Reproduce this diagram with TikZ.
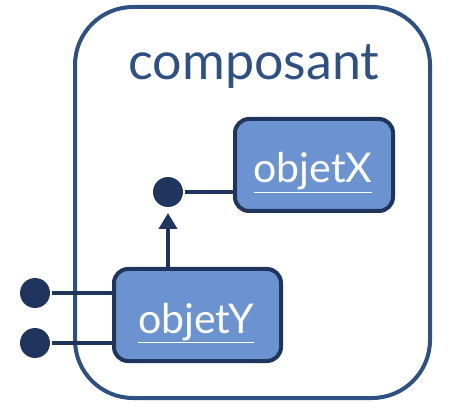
\documentclass[tikz,border=0pt]{standalone}
\usepackage{fontspec}
\setmainfont{Lato}
\usetikzlibrary{arrows.meta}
\definecolor{cadre}{RGB}{47,80,130}
\definecolor{fonce}{RGB}{31,53,94}
\definecolor{bleu}{RGB}{106,147,208}

\begin{document}
\begin{tikzpicture}[x=1pt, y=-1pt, line width=4pt]
\useasboundingbox (0,0) rectangle (458,414);
\node[draw=cadre, rounded corners=58pt, minimum width=355pt, minimum height=391pt](comp) at(252.5,202.5){};
\node[anchor=base, text=cadre, font=\fontsize{52}{52}\selectfont](titre) at(254,80){composant};
\node[draw=fonce, fill=bleu, rounded corners=14pt, minimum width=158pt, minimum height=92pt](objX) at(314,165){};
\node[anchor=base, text=white, font=\fontsize{41}{41}\selectfont](tX) at(313,183){\underline{objetX}};
\node[draw=fonce, fill=bleu, rounded corners=14pt, minimum width=167pt, minimum height=92pt](objY) at(197.5,315){};
\node[anchor=base, text=white, font=\fontsize{41}{41}\selectfont](tY) at(196,333){\underline{objetY}};
\node[circle, fill=fonce, minimum size=30pt, inner sep=0pt](pX) at(168,192){};
\node[circle, fill=fonce, minimum size=30pt, inner sep=0pt](e1) at(35,293){};
\node[circle, fill=fonce, minimum size=30pt, inner sep=0pt](e2) at(35,343){};
\draw[fonce](pX)--(pX -| objX.west);
\draw[fonce](e1)--(e1 -| objY.west);
\draw[fonce](e2)--(e2 -| objY.west);
\draw[fonce, -{Triangle[length=16pt, width=18pt]}, shorten >=4pt](objY.north -| pX)--(pX);
\end{tikzpicture}
\end{document}
